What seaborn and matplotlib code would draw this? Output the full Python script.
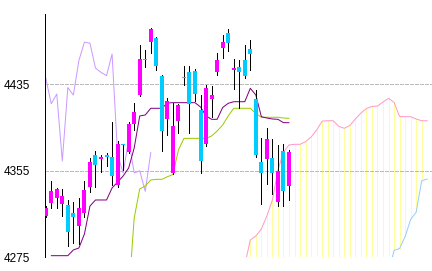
import numpy as np
import pandas as pd
import matplotlib
matplotlib.use("Agg")
import matplotlib.pyplot as plt
import seaborn as sns

nan = np.nan

# ---- candle data (daily OHLC) ----
opens  = [4313, 4325, 4330, 4324, 4323, 4316, 4304, 4316, 4340, 4370,
          4366, 4370, 4368, 4342, 4380, 4372, 4398, 4425, 4458, 4474,
          4478, 4443, 4403, 4353, 4401, 4442, 4446, 4447, 4411, 4380,
          4421, 4446, 4469, 4482, 4448, 4451, 4457, 4468, 4421, 4363,
          4366, 4367, 4326, 4373, 4341]
highs  = [4322, 4346, 4339, 4338, 4328, 4326, 4330, 4346, 4367, 4373,
          4370, 4371, 4400, 4383, 4380, 4400, 4418, 4471, 4467, 4487,
          4479, 4444, 4422, 4418, 4417, 4452, 4452, 4449, 4425, 4434,
          4433, 4464, 4481, 4486, 4458, 4457, 4471, 4476, 4430, 4385,
          4395, 4384, 4379, 4380, 4374]
lows   = [4312, 4321, 4321, 4313, 4285, 4288, 4287, 4312, 4335, 4340,
          4354, 4359, 4342, 4340, 4356, 4371, 4393, 4424, 4451, 4464,
          4448, 4373, 4388, 4352, 4390, 4434, 4390, 4420, 4353, 4378,
          4405, 4444, 4459, 4466, 4431, 4413, 4441, 4448, 4368, 4324,
          4343, 4334, 4322, 4322, 4328]
closes = [4321, 4336, 4338, 4332, 4298, 4312, 4321, 4337, 4363, 4360,
          4368, 4368, 4350, 4380, 4379, 4398, 4409, 4458, 4457, 4486,
          4452, 4392, 4420, 4396, 4416, 4441, 4417, 4426, 4364, 4432,
          4425, 4457, 4474, 4473, 4450, 4446, 4443, 4463, 4370, 4353,
          4384, 4353, 4355, 4336, 4372]

# ---- ichimoku lines ----
tenkan = [nan, 4276.5, 4276.5, 4276.5, 4276.5, 4281.8, 4283.6, 4296.5, 4322.4, 4328.0,
          4328.0, 4328.0, 4339.1, 4344.6, 4350.2, 4357.6, 4376.1, 4405.7, 4406.6, 4412.8,
          4412.8, 4412.8, 4417.7, 4418.0, 4418.0, 4418.0, 4418.0, 4418.0, 4414.0, 4405.7,
          4402.6, 4402.6, 4413.5, 4417.4, 4418.9, 4418.9, 4418.9, 4431.3, 4425.1, 4405.0,
          4403.8, 4402.9, 4402.6, 4399.5, 4399.5]
kijun = [nan] * 15 + [
          4240.0, 4311.3, 4338.2, 4340.9, 4346.5,
          4347.1, 4347.1, 4349.5, 4351.6, 4374.2, 4385.0, 4385.0, 4385.0, 4385.0, 4385.0,
          4387.2, 4391.8, 4397.3, 4405.7, 4412.8, 4412.8, 4412.8, 4412.8, 4408.0, 4404.5,
          4404.5, 4404.5, 4404.5, 4403.8, 4403.5]
span_a = [nan] * 36 + [
          4268.0, 4291.0, 4294.7, 4301.2, 4313.2, 4328.0, 4355.7, 4372.4, 4378.9, 4379.5,
          4379.5, 4381.9, 4386.3, 4392.7, 4401.0, 4401.3, 4401.3, 4396.1, 4394.3, 4396.9,
          4402.9, 4408.4, 4412.6, 4414.5, 4414.9, 4418.6, 4422.0, 4418.2, 4405.2, 4405.0,
          4405.0, 4402.9, 4401.3, 4401.3]
span_b = [nan] * 62 + [
          4261.0, 4281.3, 4283.1, 4294.2, 4310.0, 4316.9, 4345.8, 4347.4]
lag_shift = 25

y_ticks = [4275, 4355, 4435]

# ---- figure ----
sns.set_style("white")
plt.rcParams['font.family'] = ['Liberation Sans', 'DejaVu Sans']

PX = 0.72  # one pixel in points at 100 dpi
fig = plt.figure(figsize=(4.32, 2.71), dpi=100)
ax = fig.add_axes([45 / 432, (271 - 257.3) / 271, 387 / 432, (257.3 - 14) / 271])
ax.set_xlim(-0.13, 69.86)
ax.set_ylim(4275, 4500)

n = len(closes)
idx = np.arange(n)
o = np.array(opens, float)
c = np.array(closes, float)
h = np.array(highs, float)
l = np.array(lows, float)

sa = np.array(span_a, float)
sb = np.array(span_b, float)
cidx = np.arange(len(sa))

# cloud (yellow vertical lines between span A and span B)
cloud_mask = ~np.isnan(sa)
cloud_mask[-1] = False
bottom = np.where(np.isnan(sb), ax.get_ylim()[0] - 50, sb)
ax.vlines(cidx[cloud_mask], np.minimum(sa, bottom)[cloud_mask],
          np.maximum(sa, bottom)[cloud_mask], color='#FFFF99', lw=PX, zorder=1,
          antialiaseds=False)

def line(xv, yv, color, z):
    df = pd.DataFrame({'x': xv, 'y': yv}).dropna()
    sns.lineplot(data=df, x='x', y='y', ax=ax, color=color, lw=PX,
                 zorder=z, estimator=None, sort=False)

line(cidx, sa, '#FF99CC', 2)
line(cidx, sb, '#99CCFF', 2)
# lagging span: closes shifted back
lag = c[lag_shift:]
line(np.arange(len(lag)), lag, '#CC99FF', 2)
line(idx, np.array(kijun, float), '#99CC00', 3)
line(idx, np.array(tenkan, float), '#800080', 3)

# candles
up = c >= o
colors = np.where(up, '#FF00FF', '#00CCFF')
ax.vlines(idx, l, h, color='black', lw=PX, zorder=4, antialiaseds=False)
ax.bar(idx, np.maximum(np.abs(c - o), 1.2), bottom=np.minimum(o, c), width=0.72,
       color=colors, linewidth=0, zorder=5, antialiased=False)

# axes styling
ax.set_axisbelow('line')
ax.set_yticks(y_ticks)
ax.set_yticklabels([str(t) for t in y_ticks], fontsize=8.5)
ax.set_xticks([])
ax.set_xlabel('')
ax.set_ylabel('')
ax.tick_params(axis='y', direction='in', length=4 * PX, width=PX, pad=15 * PX,
               color='black', labelcolor='black')
ax.yaxis.grid(True, color='#BBBBBB', linestyle=(0, (3, 2)), lw=PX, antialiased=False)
ax.xaxis.grid(False)
for s in ['top', 'right', 'bottom']:
    ax.spines[s].set_visible(False)
ax.spines['left'].set_color('black')
ax.spines['left'].set_linewidth(PX)
ax.spines['left'].set_antialiased(False)
ax.patch.set_alpha(0)
fig.patch.set_facecolor('white')

fig.savefig('out.png', dpi=100, facecolor='white')
